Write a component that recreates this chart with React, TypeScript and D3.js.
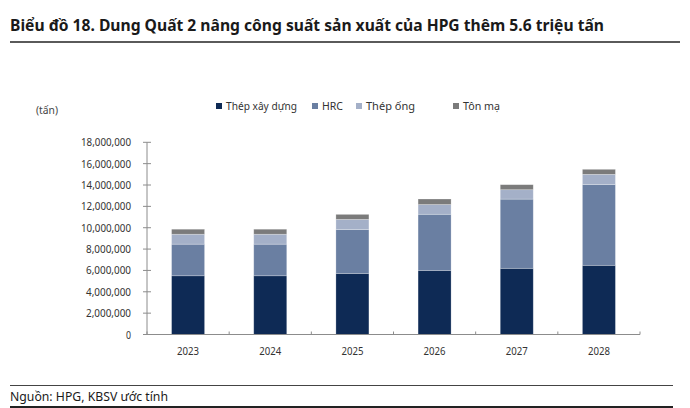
import React from "react";
import * as d3 from "d3";

const years = ["2023", "2024", "2025", "2026", "2027", "2028"];
const thepXayDung = [5500000, 5500000, 5720000, 6000000, 6200000, 6480000];
const hrc = [2960000, 2960000, 4100000, 5260000, 6480000, 7560000];
const thepOng = [930000, 930000, 960000, 910000, 880000, 960000];
const tonMa = [470000, 470000, 470000, 520000, 470000, 470000];
const seriesNames = ["Thép xây dựng", "HRC", "Thép ống", "Tôn mạ"];
const seriesColors = ["#0e2a55", "#6a7fa2", "#a4b0c8", "#7b7b7b"];
const yTicks = [0, 2000000, 4000000, 6000000, 8000000, 10000000, 12000000, 14000000, 16000000, 18000000];

const W = 690;
const H = 408;
const FONT = "'Noto Sans', 'DejaVu Sans', sans-serif";

export default function App() {
  const x0 = 147, x1 = 640, yTop = 142.3, yBot = 334.5;
  const x = d3.scaleBand<string>().domain(years).range([x0, x1]).paddingInner(0.6).paddingOuter(0.3);
  const y = d3.scaleLinear().domain([0, 18000000]).range([yBot, yTop]);
  const table = years.map((yr, i) => ({
    year: yr,
    s0: thepXayDung[i],
    s1: hrc[i],
    s2: thepOng[i],
    s3: tonMa[i],
  }));
  const keys = ["s0", "s1", "s2", "s3"];
  const stacked = d3.stack<any>().keys(keys)(table);
  const fmt = d3.format(",");
  const step = (x1 - x0) / years.length;
  const bw = 33;

  const legendX = [216, 312, 356, 453];
  const legendW = [71, 21, 49, 37];

  return (
    <svg width={W} height={H} style={{ position: "absolute", left: 0, top: 0, background: "#fff" }} fontFamily={FONT}>
      <rect x={0} y={0} width={W} height={H} fill="#fff" />
      {/* Title */}
      <text x={10} y={31} fontSize={16} fontWeight={700} fill="#1a1a1a" textLength={594} lengthAdjust="spacingAndGlyphs">
        Biểu đồ 18. Dung Quất 2 nâng công suất sản xuất của HPG thêm 5.6 triệu tấn
      </text>
      <rect x={10} y={41} width={670} height={2} fill="#5a5a5a" />

      {/* unit */}
      <text x={36} y={114} fontSize={11} fill="#444" textLength={22} lengthAdjust="spacingAndGlyphs">(tấn)</text>

      {/* Legend */}
      {seriesNames.map((n, i) => (
        <g key={n}>
          <rect x={legendX[i]} y={103} width={6} height={6} fill={seriesColors[i]} />
          <text x={legendX[i] + 10} y={110} fontSize={11} fill="#333" textLength={legendW[i]} lengthAdjust="spacingAndGlyphs">{n}</text>
        </g>
      ))}

      {/* Bars */}
      {stacked.map((layer, li) => (
        <g key={li}>
          {layer.map((d, i) => {
            const cx = x0 + step * (i + 0.5);
            return (
              <rect
                key={i}
                x={cx - bw / 2}
                y={y(d[1])}
                width={bw}
                height={y(d[0]) - y(d[1])}
                fill={seriesColors[li]}
                stroke="#ffffff"
                strokeOpacity={0.35}
                strokeWidth={0.7}
              />
            );
          })}
        </g>
      ))}

      {/* Y axis */}
      <line x1={x0} x2={x0} y1={yTop} y2={yBot} stroke="#8c8c8c" strokeWidth={1} />
      {yTicks.map((t) => (
        <g key={t}>
          <line x1={x0 - 4} x2={x0 + 4} y1={y(t)} y2={y(t)} stroke="#8c8c8c" strokeWidth={1} />
          <text x={131} y={y(t) + 4} fontSize={11} textAnchor="end" fill="#333"
            textLength={fmt(t).length * 5} lengthAdjust="spacingAndGlyphs">{fmt(t)}</text>
        </g>
      ))}

      {/* X axis */}
      <line x1={x0} x2={x1} y1={yBot} y2={yBot} stroke="#8c8c8c" strokeWidth={1} />
      {d3.range(years.length + 1).map((k) => (
        <line key={k} x1={x0 + step * k} x2={x0 + step * k} y1={yBot} y2={yBot - 3} stroke="#8c8c8c" strokeWidth={1} />
      ))}
      {years.map((yr, i) => (
        <text key={yr} x={(x(yr) as number) + x.bandwidth() / 2} y={355} fontSize={11} textAnchor="middle" fill="#333"
          textLength={22} lengthAdjust="spacingAndGlyphs">{yr}</text>
      ))}

      {/* Footer */}
      <rect x={10} y={385} width={663} height={1} fill="#444" />
      <text x={10} y={401} fontSize={13} fill="#1a1a1a" textLength={158} lengthAdjust="spacingAndGlyphs">Nguồn: HPG, KBSV ước tính</text>
      <rect x={10} y={406} width={663} height={2} fill="#222" />
    </svg>
  );
}
